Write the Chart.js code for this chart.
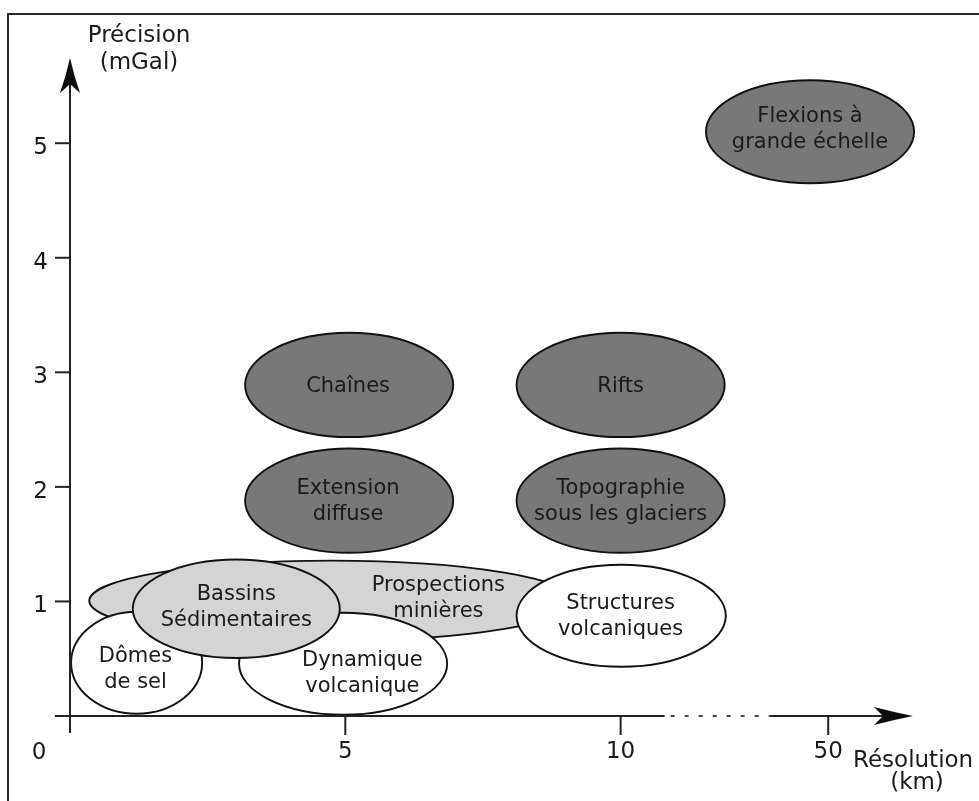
<!DOCTYPE html>
<html><head><meta charset="utf-8">
<script src="https://cdn.jsdelivr.net/npm/chart.js@4"></script>
<style>html,body{margin:0;padding:0;background:#fff}#wrap{width:979px;height:801px;position:relative}</style>
</head><body><div id="wrap"><canvas id="c" width="979" height="801"></canvas></div>
<script>
// ---- data (axis units: x = résolution, y = précision) ----
const labels = [
  ["Flexions à","grande échelle"],
  ["Chaînes"],
  ["Rifts"],
  ["Extension","diffuse"],
  ["Topographie","sous les glaciers"],
  ["Prospections","minières"],
  ["Dômes","de sel"],
  ["Dynamique","volcanique"],
  ["Bassins","Sédimentaires"],
  ["Structures","volcaniques"]
];
const resolution = [13.44, 5.07, 10.0, 5.07, 10.0, 4.75, 1.21, 4.96, 3.02, 10.01];
const precision  = [5.10, 2.89, 2.89, 1.88, 1.88, 1.006, 0.465, 0.456, 0.936, 0.875];
const resSpread  = [1.89, 1.89, 1.89, 1.89, 1.89, 4.40, 1.19, 1.89, 1.88, 1.90];
const precSpread = [0.45, 0.455, 0.455, 0.455, 0.455, 0.35, 0.445, 0.445, 0.43, 0.445];
const group      = ["dark","dark","dark","dark","dark","light","white","white","light","white"];
const labelRes   = [13.44, 5.05, 10.0, 5.05, 10.0, 6.69, 1.19, 5.31, 3.02, 10.0];
const labelPrec  = [5.14, 2.895, 2.895, 1.887, 1.887, 1.041, 0.421, 0.391, 0.962, 0.883];

const yTicks = [1, 2, 3, 4, 5];
const xTickPos = [5, 10, 13.77];
const xTickLabels = ["5", "10", "50"];
const xBreak = [10.8, 12.71];

const fills = { dark: "#787878", light: "#d4d4d4", white: "#ffffff" };
const TXT = "#1a1a1a";

const diagram = {
  id: "diagram",
  beforeDraw(chart) {
    const ctx = chart.ctx;
    ctx.save();
    ctx.fillStyle = "#fff";
    ctx.fillRect(0, 0, chart.width, chart.height);
    ctx.restore();
  },
  afterDraw(chart) {
    const ctx = chart.ctx;
    const X = chart.scales.x, Y = chart.scales.y;
    const px = v => X.getPixelForValue(v), py = v => Y.getPixelForValue(v);
    const x0 = px(0), y0 = py(0);
    ctx.save();
    // frame
    ctx.strokeStyle = "#2a2a2a"; ctx.lineWidth = 2;
    ctx.strokeRect(8, 14, 1100, 1100);

    // ellipses
    for (let i = 0; i < labels.length; i++) {
      const cx = px(resolution[i]), cy = py(precision[i]);
      const rx = Math.abs(px(resolution[i] + resSpread[i]) - cx);
      const ry = Math.abs(py(precision[i] + precSpread[i]) - cy);
      ctx.beginPath();
      ctx.ellipse(cx, cy, rx, ry, 0, 0, Math.PI * 2);
      ctx.fillStyle = fills[group[i]];
      ctx.fill();
      ctx.lineWidth = 1.9; ctx.strokeStyle = "#111";
      ctx.stroke();
    }
    // ellipse labels
    ctx.fillStyle = TXT;
    ctx.font = "21px 'DejaVu Sans'";
    ctx.textAlign = "center"; ctx.textBaseline = "alphabetic";
    const lh = 26;
    for (let i = 0; i < labels.length; i++) {
      const lx = px(labelRes[i]), ly = py(labelPrec[i]);
      const n = labels[i].length;
      labels[i].forEach((t, k) => {
        const vc = ly + (k - (n - 1) / 2) * lh;
        ctx.fillText(t, lx, vc + 7.5);
      });
    }

    // axes
    ctx.strokeStyle = "#222"; ctx.lineWidth = 2; ctx.lineCap = "butt";
    const yTop = py(Y.max), xEnd = px(X.max);
    ctx.beginPath(); ctx.moveTo(x0, y0 + 17); ctx.lineTo(x0, yTop + 25); ctx.stroke();
    ctx.beginPath(); ctx.moveTo(x0 - 15, y0); ctx.lineTo(px(xBreak[0]), y0);
    ctx.moveTo(px(xBreak[1]), y0); ctx.lineTo(xEnd - 28, y0); ctx.stroke();
    ctx.save();
    ctx.strokeStyle = "#444"; ctx.setLineDash([4, 10]); ctx.lineDashOffset = -6;
    ctx.beginPath(); ctx.moveTo(px(xBreak[0]), y0); ctx.lineTo(px(xBreak[1]), y0); ctx.stroke();
    ctx.restore();
    // arrowheads
    ctx.fillStyle = "#0d0d0d";
    ctx.beginPath();
    ctx.moveTo(xEnd, y0);
    ctx.quadraticCurveTo(xEnd - 20, y0 - 4, xEnd - 39, y0 - 9);
    ctx.lineTo(xEnd - 30, y0);
    ctx.lineTo(xEnd - 39, y0 + 9);
    ctx.quadraticCurveTo(xEnd - 20, y0 + 4, xEnd, y0);
    ctx.fill();
    ctx.beginPath();
    ctx.moveTo(x0, yTop);
    ctx.quadraticCurveTo(x0 - 4, yTop + 18, x0 - 10, yTop + 35);
    ctx.lineTo(x0, yTop + 26);
    ctx.lineTo(x0 + 10, yTop + 35);
    ctx.quadraticCurveTo(x0 + 4, yTop + 18, x0, yTop);
    ctx.fill();
    // ticks
    ctx.strokeStyle = "#222"; ctx.lineWidth = 2;
    yTicks.forEach(v => { const y = py(v); ctx.beginPath(); ctx.moveTo(x0 - 15, y); ctx.lineTo(x0, y); ctx.stroke(); });
    xTickPos.forEach(v => { const x = px(v); ctx.beginPath(); ctx.moveTo(x, y0); ctx.lineTo(x, y0 + 19); ctx.stroke(); });
    // tick labels
    ctx.fillStyle = TXT; ctx.font = "23px 'DejaVu Sans'";
    ctx.textAlign = "right";
    yTicks.forEach(v => ctx.fillText(String(v), x0 - 22, py(v) + 11));
    ctx.textAlign = "center";
    ctx.fillText("0", 39, y0 + 43);
    xTickPos.forEach((v, k) => ctx.fillText(xTickLabels[k], px(v), y0 + 42));
    // axis titles
    ctx.fillText("Précision", 139, 42);
    ctx.fillText("(mGal)", 139, 69);
    ctx.textAlign = "left";
    ctx.fillText("Résolution", 853, 767);
    ctx.textAlign = "center";
    ctx.fillText("(km)", 917, 789);
    ctx.restore();
  }
};

new Chart(document.getElementById("c"), {
  type: "scatter",
  data: {
    datasets: [{
      label: "Domaines",
      data: resolution.map((r, i) => ({ x: r, y: precision[i] })),
      pointRadius: 0, pointHoverRadius: 0
    }]
  },
  options: {
    responsive: false, animation: false, devicePixelRatio: 1,
    layout: { padding: { left: 70, right: 66, top: 58, bottom: 85 } },
    plugins: { legend: { display: false }, tooltip: { enabled: false } },
    events: [],
    scales: {
      x: { type: "linear", min: 0, max: 15.31, display: false },
      y: { type: "linear", min: 0, max: 5.744, display: false }
    }
  },
  plugins: [diagram]
});
</script>
</body></html>
